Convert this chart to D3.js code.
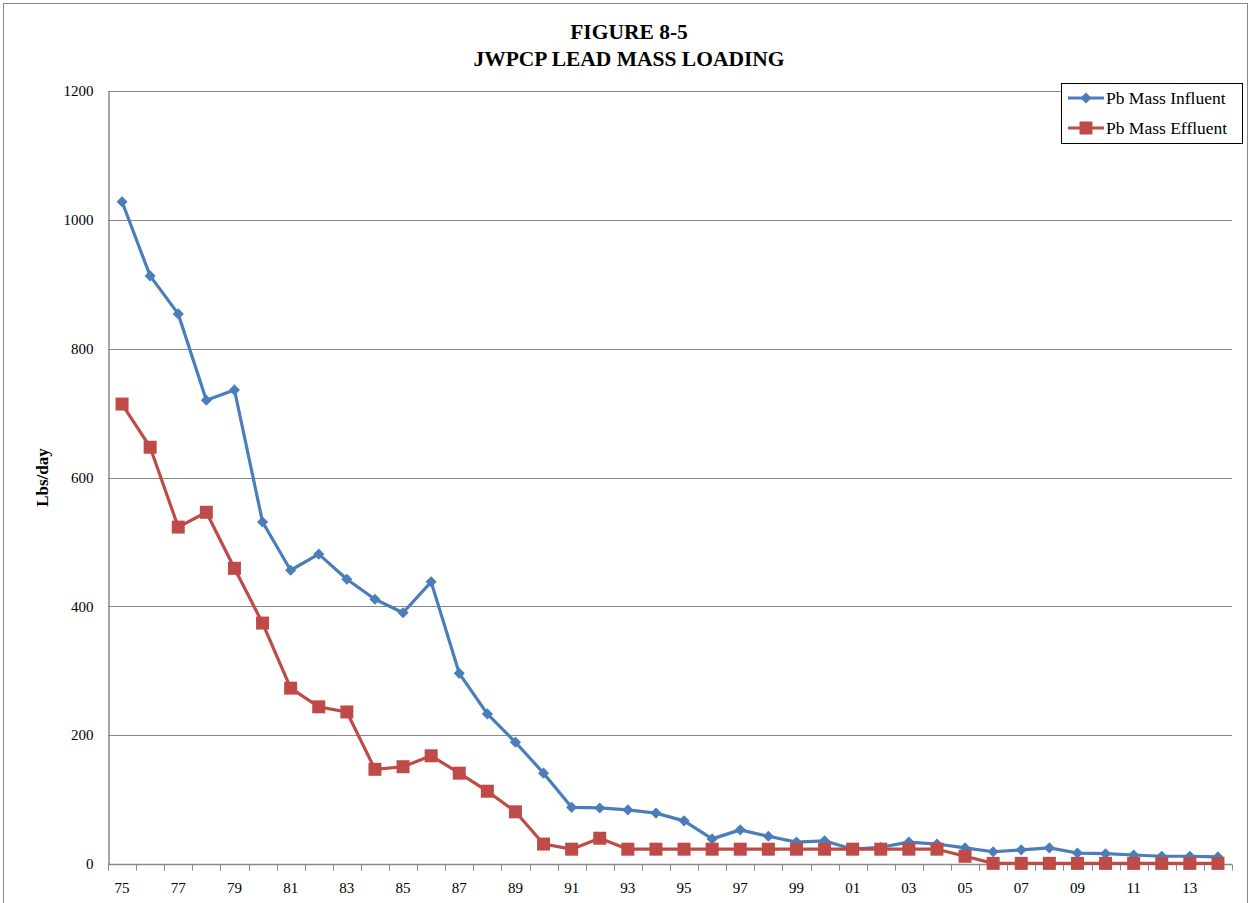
<!DOCTYPE html>
<html><head><meta charset="utf-8">
<script src="https://cdn.jsdelivr.net/npm/d3@7"></script>
<style>body{margin:0;background:#fff}svg{display:block}text{font-family:"Liberation Serif","Times New Roman",serif}</style>
</head><body>
<script>
const years = ["75","76","77","78","79","80","81","82","83","84","85","86","87","88","89","90","91","92","93","94","95","96","97","98","99","00","01","02","03","04","05","06","07","08","09","10","11","12","13","14"];
const influent = [1028,913,854,720,736,531,456,481,442,411,390,438,296,233,189,141,88,87,84,79,67,39,53,43,34,36,23,26,34,31,25,19,22,25,17,16,14,12,12,11];
const effluent = [714,647,523,546,459,374,273,244,236,147,151,168,141,113,81,31,23,40,23,23,23,23,23,23,23,23,23,23,23,23,12,1,1,1,1,1,1,1,1,1];
const yTicks = [0,200,400,600,800,1000,1200];
const seriesNames = ["Pb Mass Influent","Pb Mass Effluent"];
const colors = ["#4A7EBB","#BE4B48"];

(function(){
const W=1251,H=903;
const svg=d3.select("body").append("svg").attr("width",W).attr("height",H);
svg.append("rect").attr("x",3.5).attr("y",3.5).attr("width",1244).attr("height",910).attr("fill","none").attr("stroke","#888").attr("stroke-width",1);

const pl=108,pr=1232,pt=91,pb=864;
const x=d3.scaleBand().domain(years).range([pl,pr]);
const y=d3.scaleLinear().domain([0,1200]).range([pb,pt]);

// gridlines
svg.append("g").selectAll("line").data(yTicks.filter(d=>d>0)).join("line")
 .attr("x1",pl).attr("x2",pr).attr("y1",d=>Math.round(y(d))+0.5).attr("y2",d=>Math.round(y(d))+0.5)
 .attr("stroke","#888").attr("stroke-width",1);

// y axis
const ya=svg.append("g").attr("transform",`translate(${pl+0.5},0)`)
 .call(d3.axisLeft(y).tickValues(yTicks).tickSize(0).tickPadding(15).tickFormat(d3.format("d")));
ya.select(".domain").attr("stroke","#888").attr("stroke-width",1.5);
ya.selectAll("text").attr("font-size",15).attr("fill","#000").attr("font-family","Liberation Serif");

// x axis
const xa=svg.append("g").attr("transform",`translate(0,${pb+0.5})`);
xa.append("line").attr("x1",pl).attr("x2",pr).attr("stroke","#888").attr("stroke-width",1.5);
const bounds=years.map(d=>x(d)).concat([pr]);
xa.selectAll("line.tk").data(bounds).join("line").attr("class","tk")
 .attr("x1",d=>Math.round(d)+0.5).attr("x2",d=>Math.round(d)+0.5).attr("y1",0).attr("y2",6).attr("stroke","#888");
xa.selectAll("text").data(years.filter((d,i)=>i%2===0)).join("text")
 .attr("x",d=>x(d)+x.bandwidth()/2).attr("y",28).attr("text-anchor","middle")
 .attr("font-size",15).text(d=>d);

// y label
svg.append("text").attr("transform",`translate(48,${(pt+pb)/2}) rotate(-90)`)
 .attr("text-anchor","middle").attr("font-size",17).attr("font-weight","bold").text("Lbs/day");

// title
svg.append("text").attr("x",629).attr("y",39).attr("text-anchor","middle").attr("font-size",21.5).attr("font-weight","bold").text("FIGURE 8-5");
svg.append("text").attr("x",629).attr("y",66).attr("text-anchor","middle").attr("font-size",21.5).attr("font-weight","bold").text("JWPCP LEAD MASS LOADING");

const cx=d=>x(d)+x.bandwidth()/2;
const line=d3.line().x((d,i)=>cx(years[i])).y(d=>y(d));

function drawSeries(vals,color,kind){
  svg.append("path").datum(vals).attr("d",line).attr("fill","none").attr("stroke",color).attr("stroke-width",3.2).attr("stroke-linejoin","round");
  const g=svg.append("g");
  if(kind==="d"){
    g.selectAll("path").data(vals).join("path").attr("d",d3.symbol().type(d3.symbolSquare).size(62))
     .attr("transform",(d,i)=>`translate(${cx(years[i])},${y(d)}) rotate(45)`).attr("fill",color);
  } else {
    g.selectAll("rect").data(vals).join("rect").attr("x",(d,i)=>cx(years[i])-6.5).attr("y",d=>y(d)-6.5)
     .attr("width",13).attr("height",13).attr("fill",color);
  }
}
drawSeries(influent,colors[0],"d");
drawSeries(effluent,colors[1],"s");

// legend
const lg=svg.append("g");
lg.append("rect").attr("x",1061.5).attr("y",83.5).attr("width",181).attr("height",60).attr("fill","#fff").attr("stroke","#000");
seriesNames.forEach((n,i)=>{
  const ly=98+i*30;
  lg.append("line").attr("x1",1068).attr("x2",1104).attr("y1",ly).attr("y2",ly).attr("stroke",colors[i]).attr("stroke-width",3.2);
  if(i===0) lg.append("path").attr("d",d3.symbol().type(d3.symbolSquare).size(62)).attr("transform",`translate(1086,${ly}) rotate(45)`).attr("fill",colors[i]);
  else lg.append("rect").attr("x",1086-6.5).attr("y",ly-6.5).attr("width",13).attr("height",13).attr("fill",colors[i]);
  lg.append("text").attr("x",1106).attr("y",ly+5.5).attr("font-size",17.5).text(n);
});
})();
</script>
</body></html>
